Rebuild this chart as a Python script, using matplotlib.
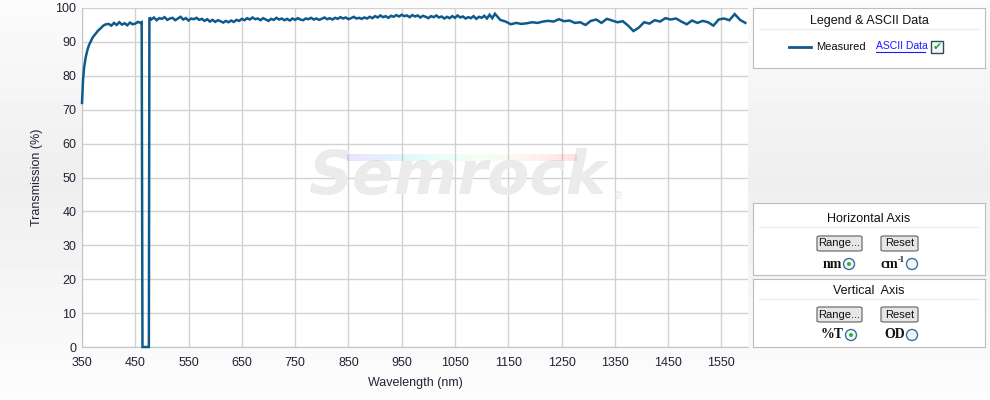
import numpy as np
import matplotlib
matplotlib.use("Agg")
import matplotlib.pyplot as plt
from matplotlib.patches import FancyBboxPatch, Rectangle, Ellipse
from matplotlib.lines import Line2D

plt.rcParams['font.family'] = ['Liberation Sans', 'DejaVu Sans']

# ---- data ----
# rising edge at the blue end
wl_rise = [350, 352, 354, 357, 360, 363, 366, 370, 375, 380, 385, 390, 395]
t_rise = [72.0, 79.0, 82.5, 85.5, 87.5, 89.0, 90.0, 91.3, 92.3, 93.3, 94.0, 94.8, 95.2]

# flat part before the notch, 400-460 nm every 5 nm
wl_pre = np.arange(400, 461, 5)
t_pre = [95.3, 94.8, 95.6, 95.0, 95.8, 95.1, 95.5, 94.9, 95.7, 95.2, 95.4, 95.9, 95.6]

# the notch (blocking band)
wl_notch = [462, 463.5, 475.5, 476.5]
t_notch = [95.8, 0.0, 0.0, 97.2]

# noisy passband, 480-1130 nm every 5 nm
wl_noisy = np.arange(480, 1131, 5)
t_noisy = [
    96.6, 97.2, 96.4, 97.0, 96.8, 97.3, 96.5, 96.9, 97.1, 96.4,
    96.9, 97.4, 96.6, 97.0, 96.3, 96.9, 96.7, 97.1, 96.5, 96.8,
    96.2, 96.7, 96.0, 96.5, 95.9, 96.4, 96.1, 95.7, 96.2, 95.8,
    96.3, 95.9, 96.5, 96.2, 96.8, 96.4, 97.0, 96.6, 97.2, 96.7,
    96.9, 96.4, 97.0, 96.6, 96.2, 96.8, 96.5, 97.1, 96.6, 96.9,
    96.4, 96.8, 96.3, 96.9, 96.5, 97.0, 96.6, 96.4, 96.9, 96.7,
    97.1, 96.6, 96.9, 96.5, 96.8, 97.2, 96.7, 97.0, 96.6, 97.1,
    96.8, 97.3, 96.9, 97.2, 96.7, 97.0, 97.4, 96.9, 97.1, 96.8,
    97.2, 96.9, 97.4, 97.0, 97.6, 97.2, 97.8, 97.3, 97.6, 97.1,
    97.7, 97.4, 97.9, 97.5, 98.0, 97.6, 97.8, 97.3, 97.9, 97.5,
    97.8, 97.2, 97.7, 97.4, 97.0, 97.6, 97.3, 97.8, 97.2, 97.5,
    96.9, 97.4, 97.0, 97.6, 97.1, 97.8, 97.2, 97.5, 96.9, 97.3,
    97.0, 97.6, 96.8, 97.4, 97.1, 97.7, 96.9, 98.0, 97.0, 98.3,
    97.4,
]

# smoother NIR part, 1135-1595 nm every 10 nm
wl_nir = np.arange(1135, 1596, 10)
t_nir = [
    96.5, 96.0, 95.2, 95.6, 95.3, 95.5, 95.8, 95.6, 96.0, 96.2,
    96.0, 96.7, 96.1, 96.3, 95.6, 95.8, 95.0, 96.2, 96.6, 95.6,
    96.8, 96.3, 95.8, 96.1, 94.8, 93.2, 94.2, 95.8, 95.4, 96.4,
    96.0, 97.0, 96.6, 96.9, 96.0, 95.2, 96.3, 95.6, 96.2, 95.8,
    94.8, 96.6, 96.9, 96.4, 98.2, 96.5, 95.6,
]

xticks = np.arange(350, 1551, 100)
yticks = np.arange(0, 101, 10)

wl = np.concatenate([wl_rise, wl_pre, wl_notch, wl_noisy, wl_nir])
trans = np.concatenate([t_rise, t_pre, t_notch, t_noisy, t_nir])

W, H = 990, 400
line_color = '#0f5a8c'
text_color = '#222233'


def fx(x):
    return x / W


def fy(y):
    return 1 - y / H


fig = plt.figure(figsize=(9.9, 4.0), dpi=100)

# soft grey page background
bg = fig.add_axes([0, 0, 1, 1], zorder=-10)
rows = np.interp(np.linspace(0, 1, 200), [0, 0.45, 1], [0.985, 0.935, 0.99])
bg.imshow(np.repeat(rows[:, None], 2, axis=1), cmap='gray', vmin=0, vmax=1,
          aspect='auto', extent=[0, 1, 0, 1])
bg.axis('off')

# ---- main chart ----
ax = fig.add_axes([fx(82), fy(347), (748 - 82) / W, (347 - 8) / H])
ax.set_facecolor('white')

# watermark
ax.text(0.563, 0.50, 'Semrock', transform=ax.transAxes, fontsize=44,
        fontweight='bold', style='italic', family='DejaVu Sans',
        color='#ebebeb', ha='center', va='center', zorder=1)
ax.text(0.805, 0.445, '\u00ae', transform=ax.transAxes, fontsize=7,
        color='#e6e6e6', ha='center', va='center', zorder=1)
grad = np.linspace(0, 1, 256)[None, :]
ax.imshow(grad, cmap='rainbow', alpha=0.12, aspect='auto', zorder=1,
          extent=[847, 1278, 54.8, 56.6])

ax.plot(wl, trans, color=line_color, lw=1.8, zorder=3, clip_on=False,
        solid_joinstyle='miter')

ax.set_xlim(350, 1600)
ax.set_ylim(0, 100)
ax.set_xticks(xticks)
ax.set_yticks(yticks)
ax.grid(True, color='#d2d2d2', lw=1, zorder=0)
ax.set_axisbelow(True)
ax.tick_params(length=0, labelsize=9, colors=text_color)
ax.tick_params(axis='x', pad=7)
ax.tick_params(axis='y', pad=4)
for side in ['top', 'right']:
    ax.spines[side].set_visible(False)
for side in ['left', 'bottom']:
    ax.spines[side].set_color('#c4c4c4')
ax.set_xlabel('Wavelength (nm)', fontsize=9, color=text_color, labelpad=6)
ax.set_ylabel('Transmission (%)', fontsize=9, color=text_color, labelpad=9)


# ---- right hand control panels ----
def panel(x0, y0, x1, y1, title, ty, sy):
    p = fig.add_axes([fx(x0), fy(y1), (x1 - x0) / W, (y1 - y0) / H])
    p.set_facecolor('white')
    p.set_xticks([])
    p.set_yticks([])
    for s in p.spines.values():
        s.set_color('#bdbdbd')
    fig.text(fx((x0 + x1) / 2), fy(ty), title, ha='center', va='center',
             fontsize=9, color='#111111')
    fig.add_artist(Line2D([fx(x0 + 6), fx(x1 - 6)], [fy(sy), fy(sy)],
                          color='#eeeeee', lw=1))
    return p


def button(x0, y0, x1, y1, label):
    fig.add_artist(FancyBboxPatch((fx(x0), fy(y1)), (x1 - x0) / W, (y1 - y0) / H,
                                  boxstyle='round,pad=0,rounding_size=0.003',
                                  transform=fig.transFigure, facecolor='#e6e6e6',
                                  edgecolor='#6f6f6f', lw=0.9))
    fig.text(fx((x0 + x1) / 2), fy((y0 + y1) / 2), label, ha='center',
             va='center', fontsize=8, color='#111111')


def radio(x, y, checked):
    fig.add_artist(Ellipse((fx(x), fy(y)), 11 / W, 11 / H,
                           transform=fig.transFigure, facecolor='#f4f7fa',
                           edgecolor='#3c6e9f', lw=1))
    if checked:
        fig.add_artist(Ellipse((fx(x), fy(y)), 4 / W, 4 / H,
                               transform=fig.transFigure, facecolor='#2fb52f',
                               edgecolor='none'))


bold_serif = dict(fontsize=10, fontweight='bold', family='Liberation Serif',
                  color='#111111', va='center')

# legend panel
panel(753, 8, 985, 68, 'Legend & ASCII Data', 21, 29)
fig.add_artist(Line2D([fx(789), fx(811)], [fy(47), fy(47)], color=line_color, lw=2))
fig.text(fx(816), fy(47), 'Measured', ha='left', va='center', fontsize=8,
         color='#111111')
fig.text(fx(876), fy(46), 'ASCII Data', ha='left', va='center', fontsize=7.5,
         color='#1a1aff')
fig.add_artist(Line2D([fx(876), fx(925)], [fy(51.5), fy(51.5)], color='#1a1aff', lw=0.8))
fig.add_artist(Rectangle((fx(931), fy(53)), 12 / W, 12 / H,
                         transform=fig.transFigure, facecolor='#f7f7f7',
                         edgecolor='#2c4a66', lw=1))
fig.text(fx(937), fy(47), '\u2714', ha='center', va='center', fontsize=8,
         color='#2aa02a', family='DejaVu Sans')

# horizontal axis panel
panel(753, 203, 985, 275, 'Horizontal Axis', 219, 227)
button(817, 236, 862, 251, 'Range...')
button(881, 236, 918, 251, 'Reset')
fig.text(fx(842), fy(264), 'nm', ha='right', **bold_serif)
radio(849, 264, True)
fig.text(fx(898), fy(264), 'cm', ha='right', **bold_serif)
fig.text(fx(898), fy(260), '-1', ha='left', fontsize=6, fontweight='bold',
         family='Liberation Serif', color='#111111', va='center')
radio(912, 264, False)

# vertical axis panel
panel(753, 279, 985, 347, 'Vertical  Axis', 291, 299)
button(817, 307, 862, 322, 'Range...')
button(881, 307, 918, 322, 'Reset')
fig.text(fx(844), fy(335), '%T', ha='right', **bold_serif)
radio(851, 335, True)
fig.text(fx(905), fy(335), 'OD', ha='right', **bold_serif)
radio(912, 335, False)

fig.savefig('out.png', dpi=100, facecolor=fig.get_facecolor())
